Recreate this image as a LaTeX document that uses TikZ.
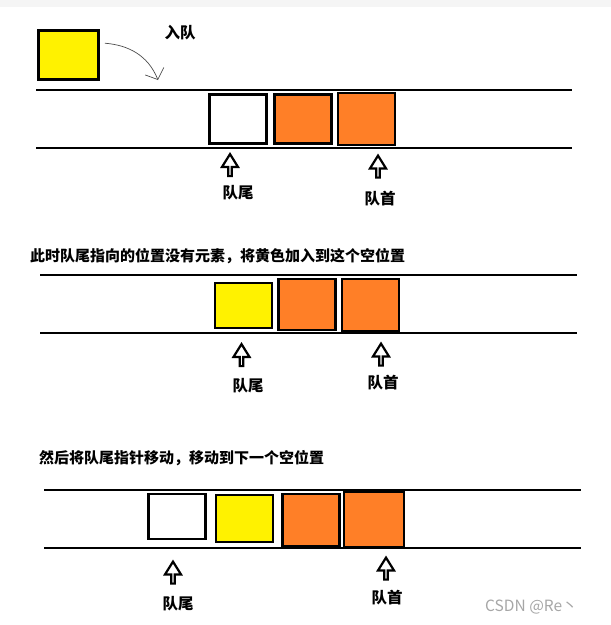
\documentclass[tikz,border=0pt]{standalone}
\usepackage{fontspec}
\setmainfont{Noto Sans CJK SC}
\usetikzlibrary{arrows.meta,positioning,shapes.arrows}

\definecolor{pyellow}{RGB}{255,242,0}
\definecolor{porange}{RGB}{255,127,39}

\tikzset{
  rail/.style={line width=2.4pt},
  cell/.style={draw,line width=2.6pt,inner sep=0,minimum width=57pt,minimum height=49pt},
  pointer/.style={draw,fill=white,single arrow,shape border rotate=90,line width=2.2pt,
    inner sep=0,minimum height=22pt,minimum width=16pt,single arrow head extend=4pt,
    single arrow tip angle=64},
  lab/.style={font=\fontsize{15.5}{16}\selectfont\bfseries,inner sep=0},
  note/.style={font=\fontsize{15}{16}\selectfont\bfseries,inner sep=0,anchor=west}
}

\begin{document}
\begin{tikzpicture}[x=1pt,y=-1pt]
\useasboundingbox (0,0) rectangle (611,625);
\fill[black!4] (0,0) rectangle (611,7);
% first row
\node[cell,fill=pyellow,minimum width=60pt] (new) at (68.5,55) {};
\node[lab] (enq) at (180,33) {入队};
\draw[rail] (36,90) -- (572,90);
\draw[rail] (36,148) -- (572,148);
\node[cell,fill=white] (a1) at (238,119) {};
\node[cell,fill=porange] (a2) at (303,119) {};
\node[cell,fill=porange,minimum height=52pt] (a3) at (366.5,119) {};
\node[pointer] (tail1) at (230,166.5) {};
\node[pointer] (head1) at (378,168) {};
\node[lab] (tlab1) at (238,193) {队尾};
\node[lab] (hlab1) at (380,199) {队首};
\coordinate (drop) at (158,80);
\draw[line width=0.7pt,black!70,-{Straight Barb[length=9pt,width=20pt]}]
  ([shift={(5,14)}]new.north east) .. controls (128,45) and (148,55) .. (drop);
% second row
\node[note] (msg2) at (30,256) {此时队尾指向的位置没有元素，将黄色加入到这个空位置};
\draw[rail] (40,275) -- (577,275);
\draw[rail] (40,333) -- (577,333);
\node[cell,fill=pyellow,minimum height=45pt] (b1) at (243.5,305.5) {};
\node[cell,fill=porange,minimum height=51pt] (b2) at (307,304.5) {};
\node[cell,fill=porange,minimum height=52pt] (b3) at (370.5,305) {};
\node[pointer] (tail2) at (241.5,356.5) {};
\node[pointer] (head2) at (381,356) {};
\node[lab] (tlab2) at (248,386) {队尾};
\node[lab] (hlab2) at (383,383) {队首};
% third row
\node[note] (msg3) at (39,458) {然后将队尾指针移动，移动到下一个空位置};
\draw[rail] (44,490) -- (581,490);
\draw[rail] (44,548) -- (581,548);
\node[cell,fill=white,minimum height=45pt] (c1) at (177,516.5) {};
\node[cell,fill=pyellow,minimum height=47pt] (c2) at (244.5,518.5) {};
\node[cell,fill=porange,minimum height=52pt] (c3) at (311,520) {};
\node[cell,fill=porange,minimum width=60pt,minimum height=55pt] (c4) at (374,519.5) {};
\node[pointer] (tail3) at (173,574) {};
\node[pointer] (head3) at (386,570) {};
\node[lab] (tlab3) at (178,604) {队尾};
\node[lab] (hlab3) at (387,598) {队首};
\node[font=\fontsize{15.5}{16}\selectfont,text=black!35,anchor=west,inner sep=0] (mark) at (485,607) {CSDN @Re丶};
\end{tikzpicture}
\end{document}
